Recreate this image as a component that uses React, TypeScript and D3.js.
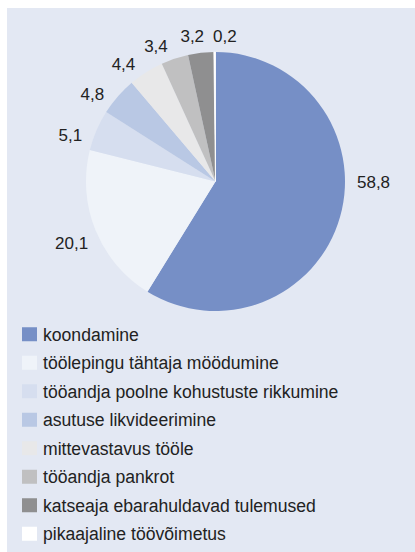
import React, { useEffect, useRef } from "react";
import * as d3 from "d3";

// shares of reasons (%), clockwise from 12 o'clock
const categories = [
  "koondamine",
  "töölepingu tähtaja möödumine",
  "tööandja poolne kohustuste rikkumine",
  "asutuse likvideerimine",
  "mittevastavus tööle",
  "tööandja pankrot",
  "katseaja ebarahuldavad tulemused",
  "pikaajaline töövõimetus",
];
const values = [58.8, 20.1, 5.1, 4.8, 4.4, 3.4, 3.2, 0.2];
const valueLabels = ["58,8", "20,1", "5,1", "4,8", "4,4", "3,4", "3,2", "0,2"];
const colors = [
  "#768fc6",
  "#eff3f9",
  "#d6deef",
  "#b9c8e4",
  "#e8e8e9",
  "#c0c0c1",
  "#8f8f90",
  "#ffffff",
];

const W = 415;
const H = 552;
const FONT = "'Liberation Sans', Arial, Helvetica, sans-serif";

const App = () => {
  const ref = useRef<SVGSVGElement>(null);

  useEffect(() => {
    const svg = d3.select(ref.current);
    svg.selectAll("*").remove();

    // panel background
    svg.append("rect").attr("x", 7).attr("y", 8).attr("width", W - 7).attr("height", H - 8).attr("fill", "#e3e8f3");

    const cx = 215.5;
    const cy = 181.5;
    const r = 129.5;

    const pie = d3.pie<number>().sort(null).value(d => d);
    const arcs = pie(values);
    const arc = d3.arc<d3.PieArcDatum<number>>().innerRadius(0).outerRadius(r);

    const g = svg.append("g").attr("transform", `translate(${cx},${cy})`);
    g.selectAll("path")
      .data(arcs)
      .enter()
      .append("path")
      .attr("d", arc)
      .attr("fill", (d, i) => colors[i])
      .attr("stroke", (d, i) => (i === 7 ? "#ffffff" : "none"))
      .attr("stroke-width", 0.8);

    // value labels outside the slices
    const fs = 17;
    const charW = (s: string) => s.split("").reduce((a, c) => a + (c === "," ? 0.278 : 0.556), 0) * fs;
    const gap = 12;
    const tilt = (4.5 * Math.PI) / 180; // labels sit a bit before the slice middle
    const placed: { x: number; y: number; w: number }[] = [];
    arcs.forEach((d, i) => {
      let ang = (d.startAngle + d.endAngle) / 2 - (i === 1 || i === 6 ? tilt / 2 : tilt);
      // the big slice label sits level with the centre, as in the original
      if (i === 0) ang = Math.PI / 2;
      const dx = Math.sin(ang);
      const dy = -Math.cos(ang);
      const w = charW(valueLabels[i]);
      const h = 13;
      let x = (r + gap) * dx + dx * (w / 2);
      let y = (r + gap) * dy + dy * (h / 2);
      // push a label that overlaps the previous one to the right
      const prev = placed[placed.length - 1];
      if (prev && i > 1 && Math.abs(prev.y - y) < h && x < prev.x + prev.w / 2 + w / 2 + 9) {
        x = prev.x + prev.w / 2 + w / 2 + 9;
        y = prev.y;
      }
      placed.push({ x, y, w });
      g.append("text")
        .attr("x", x)
        .attr("y", y + 1)
        .attr("text-anchor", "middle")
        .attr("dominant-baseline", "central")
        .attr("font-family", FONT)
        .attr("font-size", fs)
        .attr("fill", "#222")
        .text(valueLabels[i]);
    });

    // legend
    const ly = d3.scaleBand().domain(categories).range([320, 548]).paddingInner(0);
    const lg = svg.append("g");
    const rows = lg.selectAll("g").data(categories).enter().append("g")
      .attr("transform", d => `translate(22,${ly(d)! + ly.bandwidth() / 2})`);
    rows.append("rect")
      .attr("x", 0)
      .attr("y", -7)
      .attr("width", 15)
      .attr("height", 14)
      .attr("fill", (d, i) => colors[i]);
    rows.append("text")
      .attr("x", 21)
      .attr("y", 0.5)
      .attr("dominant-baseline", "central")
      .attr("font-family", FONT)
      .attr("font-size", 17.6)
      .attr("fill", "#222")
      .text(d => d);
  }, []);

  return (
    <div style={{ position: "absolute", left: 0, top: 0 }}>
      <svg ref={ref} width={W} height={H} style={{ display: "block" }}></svg>
    </div>
  );
};

export default App;
